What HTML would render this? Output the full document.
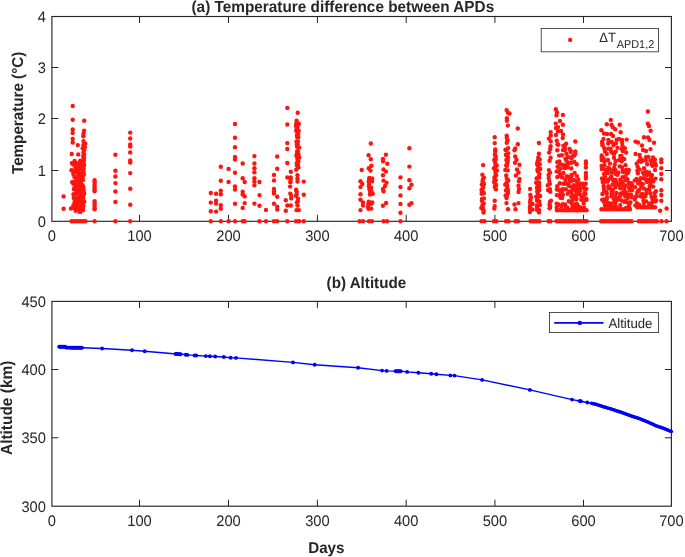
<!DOCTYPE html><html><head><meta charset="utf-8"><style>html,body{margin:0;padding:0;background:#fff;width:685px;height:557px;overflow:hidden}svg{display:block;will-change:transform}text{font-family:'Liberation Sans',sans-serif;fill:#262626;text-rendering:geometricPrecision}</style></head><body>
<svg width="685" height="557" viewBox="0 0 685 557">
<rect width="685" height="557" fill="#fff"/>
<g stroke="#262626" stroke-width="1" fill="none">
<line x1="139.50" y1="221.30" x2="139.50" y2="214.80"/>
<line x1="139.50" y1="16.50" x2="139.50" y2="23.00"/>
<line x1="228.50" y1="221.30" x2="228.50" y2="214.80"/>
<line x1="228.50" y1="16.50" x2="228.50" y2="23.00"/>
<line x1="317.40" y1="221.30" x2="317.40" y2="214.80"/>
<line x1="317.40" y1="16.50" x2="317.40" y2="23.00"/>
<line x1="406.20" y1="221.30" x2="406.20" y2="214.80"/>
<line x1="406.20" y1="16.50" x2="406.20" y2="23.00"/>
<line x1="494.90" y1="221.30" x2="494.90" y2="214.80"/>
<line x1="494.90" y1="16.50" x2="494.90" y2="23.00"/>
<line x1="583.50" y1="221.30" x2="583.50" y2="214.80"/>
<line x1="583.50" y1="16.50" x2="583.50" y2="23.00"/>
<line x1="51.90" y1="170.50" x2="58.40" y2="170.50"/>
<line x1="671.40" y1="170.50" x2="664.90" y2="170.50"/>
<line x1="51.90" y1="118.50" x2="58.40" y2="118.50"/>
<line x1="671.40" y1="118.50" x2="664.90" y2="118.50"/>
<line x1="51.90" y1="67.50" x2="58.40" y2="67.50"/>
<line x1="671.40" y1="67.50" x2="664.90" y2="67.50"/>
</g>
<rect x="51.9" y="16.5" width="619.5" height="204.8" fill="none" stroke="#262626" stroke-width="1.15"/>
<g stroke="#262626" stroke-width="1" fill="none">
<line x1="139.50" y1="506.20" x2="139.50" y2="499.70"/>
<line x1="139.50" y1="301.40" x2="139.50" y2="307.90"/>
<line x1="228.50" y1="506.20" x2="228.50" y2="499.70"/>
<line x1="228.50" y1="301.40" x2="228.50" y2="307.90"/>
<line x1="317.40" y1="506.20" x2="317.40" y2="499.70"/>
<line x1="317.40" y1="301.40" x2="317.40" y2="307.90"/>
<line x1="406.20" y1="506.20" x2="406.20" y2="499.70"/>
<line x1="406.20" y1="301.40" x2="406.20" y2="307.90"/>
<line x1="494.90" y1="506.20" x2="494.90" y2="499.70"/>
<line x1="494.90" y1="301.40" x2="494.90" y2="307.90"/>
<line x1="583.50" y1="506.20" x2="583.50" y2="499.70"/>
<line x1="583.50" y1="301.40" x2="583.50" y2="307.90"/>
<line x1="51.90" y1="437.80" x2="58.40" y2="437.80"/>
<line x1="671.40" y1="437.80" x2="664.90" y2="437.80"/>
<line x1="51.90" y1="369.50" x2="58.40" y2="369.50"/>
<line x1="671.40" y1="369.50" x2="664.90" y2="369.50"/>
</g>
<rect x="51.9" y="301.4" width="619.5" height="204.8" fill="none" stroke="#262626" stroke-width="1.15"/>
<g fill="#ff1510">
<circle cx="72.7" cy="106.0" r="2.2"/>
<circle cx="72.7" cy="119.7" r="2.2"/>
<circle cx="72.7" cy="129.4" r="2.2"/>
<circle cx="72.7" cy="132.9" r="2.2"/>
<circle cx="72.7" cy="139.0" r="2.2"/>
<circle cx="72.7" cy="142.6" r="2.2"/>
<circle cx="84.2" cy="120.8" r="2.2"/>
<circle cx="77.8" cy="145.1" r="2.2"/>
<circle cx="71.7" cy="154.0" r="2.2"/>
<circle cx="78.2" cy="154.4" r="2.2"/>
<circle cx="63.6" cy="196.4" r="2.2"/>
<circle cx="63.6" cy="208.7" r="2.2"/>
<circle cx="84.1" cy="130.7" r="2.2"/>
<circle cx="83.5" cy="133.7" r="2.2"/>
<circle cx="83.4" cy="136.3" r="2.2"/>
<circle cx="83.5" cy="141.1" r="2.2"/>
<circle cx="85.3" cy="143.8" r="2.2"/>
<circle cx="84.8" cy="147.3" r="2.2"/>
<circle cx="84.3" cy="149.9" r="2.2"/>
<circle cx="84.0" cy="154.4" r="2.2"/>
<circle cx="84.0" cy="157.7" r="2.2"/>
<circle cx="83.7" cy="160.1" r="2.2"/>
<circle cx="83.4" cy="144.9" r="2.2"/>
<circle cx="82.7" cy="148.3" r="2.2"/>
<circle cx="83.4" cy="152.4" r="2.2"/>
<circle cx="83.3" cy="156.2" r="2.2"/>
<circle cx="83.0" cy="160.3" r="2.2"/>
<circle cx="74.6" cy="160.9" r="2.2"/>
<circle cx="80.3" cy="160.8" r="2.2"/>
<circle cx="83.6" cy="161.2" r="2.2"/>
<circle cx="71.9" cy="163.1" r="2.2"/>
<circle cx="73.8" cy="163.5" r="2.2"/>
<circle cx="76.3" cy="163.2" r="2.2"/>
<circle cx="79.1" cy="163.2" r="2.2"/>
<circle cx="83.1" cy="162.7" r="2.2"/>
<circle cx="73.2" cy="164.5" r="2.2"/>
<circle cx="75.6" cy="164.8" r="2.2"/>
<circle cx="79.4" cy="164.5" r="2.2"/>
<circle cx="81.2" cy="166.0" r="2.2"/>
<circle cx="84.2" cy="164.9" r="2.2"/>
<circle cx="75.7" cy="167.2" r="2.2"/>
<circle cx="78.7" cy="167.9" r="2.2"/>
<circle cx="80.2" cy="167.6" r="2.2"/>
<circle cx="83.6" cy="168.5" r="2.2"/>
<circle cx="71.5" cy="170.3" r="2.2"/>
<circle cx="73.1" cy="170.8" r="2.2"/>
<circle cx="77.0" cy="170.6" r="2.2"/>
<circle cx="78.5" cy="169.4" r="2.2"/>
<circle cx="80.3" cy="169.3" r="2.2"/>
<circle cx="82.9" cy="169.8" r="2.2"/>
<circle cx="73.7" cy="171.6" r="2.2"/>
<circle cx="76.5" cy="171.9" r="2.2"/>
<circle cx="78.4" cy="172.3" r="2.2"/>
<circle cx="81.7" cy="173.4" r="2.2"/>
<circle cx="83.5" cy="171.8" r="2.2"/>
<circle cx="73.3" cy="174.0" r="2.2"/>
<circle cx="78.1" cy="175.0" r="2.2"/>
<circle cx="81.2" cy="175.8" r="2.2"/>
<circle cx="83.9" cy="174.5" r="2.2"/>
<circle cx="74.4" cy="177.0" r="2.2"/>
<circle cx="76.9" cy="178.2" r="2.2"/>
<circle cx="79.3" cy="177.9" r="2.2"/>
<circle cx="80.6" cy="177.3" r="2.2"/>
<circle cx="82.7" cy="176.5" r="2.2"/>
<circle cx="77.1" cy="180.6" r="2.2"/>
<circle cx="80.6" cy="179.2" r="2.2"/>
<circle cx="83.0" cy="179.9" r="2.2"/>
<circle cx="72.1" cy="182.1" r="2.2"/>
<circle cx="74.4" cy="181.4" r="2.2"/>
<circle cx="77.0" cy="182.6" r="2.2"/>
<circle cx="78.7" cy="181.5" r="2.2"/>
<circle cx="80.8" cy="182.6" r="2.2"/>
<circle cx="73.3" cy="183.8" r="2.2"/>
<circle cx="77.0" cy="185.1" r="2.2"/>
<circle cx="79.3" cy="185.4" r="2.2"/>
<circle cx="80.8" cy="184.6" r="2.2"/>
<circle cx="82.6" cy="185.3" r="2.2"/>
<circle cx="74.6" cy="187.5" r="2.2"/>
<circle cx="75.9" cy="186.5" r="2.2"/>
<circle cx="78.9" cy="186.5" r="2.2"/>
<circle cx="80.4" cy="187.6" r="2.2"/>
<circle cx="83.4" cy="187.1" r="2.2"/>
<circle cx="74.0" cy="189.3" r="2.2"/>
<circle cx="76.2" cy="188.7" r="2.2"/>
<circle cx="79.2" cy="188.7" r="2.2"/>
<circle cx="81.5" cy="189.4" r="2.2"/>
<circle cx="83.5" cy="189.4" r="2.2"/>
<circle cx="76.4" cy="192.2" r="2.2"/>
<circle cx="78.6" cy="191.9" r="2.2"/>
<circle cx="81.1" cy="192.0" r="2.2"/>
<circle cx="83.6" cy="191.7" r="2.2"/>
<circle cx="73.5" cy="194.2" r="2.2"/>
<circle cx="76.9" cy="193.4" r="2.2"/>
<circle cx="78.6" cy="193.3" r="2.2"/>
<circle cx="80.3" cy="194.4" r="2.2"/>
<circle cx="84.2" cy="193.5" r="2.2"/>
<circle cx="74.7" cy="196.0" r="2.2"/>
<circle cx="78.7" cy="197.4" r="2.2"/>
<circle cx="80.5" cy="196.4" r="2.2"/>
<circle cx="83.2" cy="196.0" r="2.2"/>
<circle cx="73.8" cy="198.0" r="2.2"/>
<circle cx="76.5" cy="198.9" r="2.2"/>
<circle cx="79.6" cy="199.4" r="2.2"/>
<circle cx="83.1" cy="198.1" r="2.2"/>
<circle cx="74.6" cy="201.9" r="2.2"/>
<circle cx="75.7" cy="202.1" r="2.2"/>
<circle cx="79.1" cy="200.6" r="2.2"/>
<circle cx="81.4" cy="201.2" r="2.2"/>
<circle cx="84.3" cy="201.5" r="2.2"/>
<circle cx="74.6" cy="203.6" r="2.2"/>
<circle cx="76.4" cy="204.5" r="2.2"/>
<circle cx="78.0" cy="203.7" r="2.2"/>
<circle cx="80.4" cy="203.1" r="2.2"/>
<circle cx="83.0" cy="203.4" r="2.2"/>
<circle cx="73.3" cy="205.8" r="2.2"/>
<circle cx="75.9" cy="205.2" r="2.2"/>
<circle cx="78.8" cy="205.5" r="2.2"/>
<circle cx="81.9" cy="205.4" r="2.2"/>
<circle cx="83.4" cy="206.1" r="2.2"/>
<circle cx="74.8" cy="208.2" r="2.2"/>
<circle cx="76.7" cy="208.7" r="2.2"/>
<circle cx="78.4" cy="207.7" r="2.2"/>
<circle cx="80.3" cy="208.9" r="2.2"/>
<circle cx="82.9" cy="207.8" r="2.2"/>
<circle cx="75.7" cy="210.8" r="2.2"/>
<circle cx="79.5" cy="211.8" r="2.2"/>
<circle cx="80.6" cy="211.7" r="2.2"/>
<circle cx="83.2" cy="210.0" r="2.2"/>
<circle cx="71.0" cy="208.5" r="2.2"/>
<circle cx="94.6" cy="180.3" r="2.2"/>
<circle cx="94.6" cy="182.6" r="2.2"/>
<circle cx="94.6" cy="184.9" r="2.2"/>
<circle cx="94.6" cy="187.2" r="2.2"/>
<circle cx="94.6" cy="189.5" r="2.2"/>
<circle cx="94.6" cy="191.2" r="2.2"/>
<circle cx="94.6" cy="201.3" r="2.2"/>
<circle cx="94.6" cy="203.5" r="2.2"/>
<circle cx="94.6" cy="205.7" r="2.2"/>
<circle cx="94.6" cy="207.9" r="2.2"/>
<circle cx="94.6" cy="209.3" r="2.2"/>
<circle cx="71.5" cy="221.2" r="2.2"/>
<circle cx="73.8" cy="221.2" r="2.2"/>
<circle cx="76.2" cy="221.2" r="2.2"/>
<circle cx="78.5" cy="221.2" r="2.2"/>
<circle cx="80.8" cy="221.2" r="2.2"/>
<circle cx="83.2" cy="221.2" r="2.2"/>
<circle cx="85.5" cy="221.2" r="2.2"/>
<circle cx="94.6" cy="221.2" r="2.2"/>
<circle cx="115.4" cy="154.8" r="2.2"/>
<circle cx="115.4" cy="170.8" r="2.2"/>
<circle cx="115.4" cy="176.5" r="2.2"/>
<circle cx="115.4" cy="183.1" r="2.2"/>
<circle cx="115.4" cy="191.5" r="2.2"/>
<circle cx="115.4" cy="201.9" r="2.2"/>
<circle cx="115.4" cy="221.2" r="2.2"/>
<circle cx="130.2" cy="132.6" r="2.2"/>
<circle cx="130.2" cy="138.5" r="2.2"/>
<circle cx="130.2" cy="144.5" r="2.2"/>
<circle cx="130.2" cy="146.5" r="2.2"/>
<circle cx="130.2" cy="152.4" r="2.2"/>
<circle cx="130.2" cy="160.5" r="2.2"/>
<circle cx="130.2" cy="162.5" r="2.2"/>
<circle cx="130.2" cy="173.1" r="2.2"/>
<circle cx="130.2" cy="188.7" r="2.2"/>
<circle cx="130.2" cy="204.7" r="2.2"/>
<circle cx="130.2" cy="221.2" r="2.2"/>
<circle cx="210.8" cy="193.0" r="2.2"/>
<circle cx="210.8" cy="202.6" r="2.2"/>
<circle cx="210.8" cy="211.3" r="2.2"/>
<circle cx="210.8" cy="221.2" r="2.2"/>
<circle cx="216.1" cy="193.8" r="2.2"/>
<circle cx="216.1" cy="200.8" r="2.2"/>
<circle cx="216.1" cy="203.5" r="2.2"/>
<circle cx="216.1" cy="211.6" r="2.2"/>
<circle cx="220.8" cy="166.7" r="2.2"/>
<circle cx="220.8" cy="180.8" r="2.2"/>
<circle cx="220.8" cy="190.8" r="2.2"/>
<circle cx="220.8" cy="194.3" r="2.2"/>
<circle cx="220.8" cy="205.3" r="2.2"/>
<circle cx="220.8" cy="208.8" r="2.2"/>
<circle cx="220.8" cy="221.2" r="2.2"/>
<circle cx="228.6" cy="168.9" r="2.2"/>
<circle cx="228.6" cy="181.9" r="2.2"/>
<circle cx="228.6" cy="221.2" r="2.2"/>
<circle cx="235.0" cy="124.0" r="2.2"/>
<circle cx="235.0" cy="137.8" r="2.2"/>
<circle cx="235.0" cy="147.2" r="2.2"/>
<circle cx="235.0" cy="157.0" r="2.2"/>
<circle cx="235.0" cy="159.5" r="2.2"/>
<circle cx="235.0" cy="172.8" r="2.2"/>
<circle cx="235.0" cy="186.5" r="2.2"/>
<circle cx="235.0" cy="189.5" r="2.2"/>
<circle cx="235.0" cy="203.8" r="2.2"/>
<circle cx="235.0" cy="221.2" r="2.2"/>
<circle cx="242.7" cy="163.5" r="2.2"/>
<circle cx="242.7" cy="178.3" r="2.2"/>
<circle cx="242.7" cy="191.7" r="2.2"/>
<circle cx="242.7" cy="194.5" r="2.2"/>
<circle cx="242.7" cy="207.9" r="2.2"/>
<circle cx="242.7" cy="221.2" r="2.2"/>
<circle cx="244.7" cy="182.0" r="2.2"/>
<circle cx="244.7" cy="196.4" r="2.2"/>
<circle cx="244.7" cy="203.1" r="2.2"/>
<circle cx="244.7" cy="221.2" r="2.2"/>
<circle cx="254.4" cy="156.1" r="2.2"/>
<circle cx="254.4" cy="163.5" r="2.2"/>
<circle cx="254.4" cy="168.2" r="2.2"/>
<circle cx="254.4" cy="172.2" r="2.2"/>
<circle cx="254.4" cy="178.3" r="2.2"/>
<circle cx="254.4" cy="181.6" r="2.2"/>
<circle cx="254.4" cy="185.3" r="2.2"/>
<circle cx="254.4" cy="203.6" r="2.2"/>
<circle cx="259.5" cy="182.0" r="2.2"/>
<circle cx="259.5" cy="195.1" r="2.2"/>
<circle cx="259.5" cy="205.8" r="2.2"/>
<circle cx="259.5" cy="221.2" r="2.2"/>
<circle cx="266.0" cy="209.9" r="2.2"/>
<circle cx="266.0" cy="221.2" r="2.2"/>
<circle cx="274.0" cy="174.9" r="2.2"/>
<circle cx="274.0" cy="180.4" r="2.2"/>
<circle cx="274.0" cy="189.0" r="2.2"/>
<circle cx="274.0" cy="191.5" r="2.2"/>
<circle cx="274.0" cy="193.5" r="2.2"/>
<circle cx="274.0" cy="203.7" r="2.2"/>
<circle cx="274.0" cy="221.2" r="2.2"/>
<circle cx="277.2" cy="156.5" r="2.2"/>
<circle cx="277.2" cy="168.7" r="2.2"/>
<circle cx="277.2" cy="196.7" r="2.2"/>
<circle cx="277.2" cy="206.6" r="2.2"/>
<circle cx="277.2" cy="209.5" r="2.2"/>
<circle cx="277.2" cy="221.2" r="2.2"/>
<circle cx="287.3" cy="107.9" r="2.2"/>
<circle cx="287.3" cy="124.5" r="2.2"/>
<circle cx="287.3" cy="143.1" r="2.2"/>
<circle cx="287.3" cy="149.0" r="2.2"/>
<circle cx="287.3" cy="163.0" r="2.2"/>
<circle cx="287.3" cy="177.5" r="2.2"/>
<circle cx="287.3" cy="205.5" r="2.2"/>
<circle cx="287.3" cy="221.2" r="2.2"/>
<circle cx="285.8" cy="200.2" r="2.2"/>
<circle cx="285.8" cy="210.7" r="2.2"/>
<circle cx="290.8" cy="171.7" r="2.2"/>
<circle cx="290.8" cy="177.5" r="2.2"/>
<circle cx="290.8" cy="205.5" r="2.2"/>
<circle cx="290.6" cy="180.0" r="2.2"/>
<circle cx="290.3" cy="182.3" r="2.2"/>
<circle cx="290.1" cy="186.6" r="2.2"/>
<circle cx="290.3" cy="193.6" r="2.2"/>
<circle cx="291.3" cy="195.9" r="2.2"/>
<circle cx="291.2" cy="198.4" r="2.2"/>
<circle cx="297.7" cy="112.8" r="2.2"/>
<circle cx="296.6" cy="120.8" r="2.2"/>
<circle cx="296.2" cy="123.6" r="2.2"/>
<circle cx="296.0" cy="126.0" r="2.2"/>
<circle cx="297.0" cy="128.2" r="2.2"/>
<circle cx="296.2" cy="130.4" r="2.2"/>
<circle cx="297.4" cy="133.0" r="2.2"/>
<circle cx="297.0" cy="135.4" r="2.2"/>
<circle cx="297.1" cy="137.1" r="2.2"/>
<circle cx="296.5" cy="141.6" r="2.2"/>
<circle cx="296.9" cy="144.5" r="2.2"/>
<circle cx="297.1" cy="146.7" r="2.2"/>
<circle cx="297.2" cy="151.3" r="2.2"/>
<circle cx="297.1" cy="153.2" r="2.2"/>
<circle cx="296.4" cy="155.6" r="2.2"/>
<circle cx="297.2" cy="158.0" r="2.2"/>
<circle cx="297.7" cy="160.7" r="2.2"/>
<circle cx="296.8" cy="163.2" r="2.2"/>
<circle cx="297.0" cy="165.5" r="2.2"/>
<circle cx="296.2" cy="169.8" r="2.2"/>
<circle cx="298.8" cy="123.8" r="2.2"/>
<circle cx="297.5" cy="126.9" r="2.2"/>
<circle cx="298.7" cy="131.0" r="2.2"/>
<circle cx="298.0" cy="134.2" r="2.2"/>
<circle cx="298.3" cy="137.2" r="2.2"/>
<circle cx="297.9" cy="141.4" r="2.2"/>
<circle cx="297.5" cy="144.3" r="2.2"/>
<circle cx="299.2" cy="147.6" r="2.2"/>
<circle cx="297.9" cy="151.5" r="2.2"/>
<circle cx="298.5" cy="154.1" r="2.2"/>
<circle cx="299.2" cy="157.5" r="2.2"/>
<circle cx="298.4" cy="161.6" r="2.2"/>
<circle cx="297.9" cy="165.0" r="2.2"/>
<circle cx="298.4" cy="167.5" r="2.2"/>
<circle cx="297.5" cy="175.2" r="2.2"/>
<circle cx="297.5" cy="178.7" r="2.2"/>
<circle cx="297.5" cy="181.6" r="2.2"/>
<circle cx="297.5" cy="205.5" r="2.2"/>
<circle cx="296.1" cy="189.7" r="2.2"/>
<circle cx="296.6" cy="191.3" r="2.2"/>
<circle cx="296.7" cy="193.9" r="2.2"/>
<circle cx="296.1" cy="195.8" r="2.2"/>
<circle cx="298.0" cy="198.6" r="2.2"/>
<circle cx="297.8" cy="201.2" r="2.2"/>
<circle cx="297.0" cy="202.4" r="2.2"/>
<circle cx="296.5" cy="210.1" r="2.2"/>
<circle cx="298.8" cy="210.1" r="2.2"/>
<circle cx="296.0" cy="221.2" r="2.2"/>
<circle cx="299.0" cy="221.2" r="2.2"/>
<circle cx="303.8" cy="181.6" r="2.2"/>
<circle cx="303.8" cy="194.7" r="2.2"/>
<circle cx="303.8" cy="221.2" r="2.2"/>
<circle cx="370.8" cy="143.5" r="2.2"/>
<circle cx="370.8" cy="159.3" r="2.2"/>
<circle cx="368.6" cy="155.2" r="2.2"/>
<circle cx="371.4" cy="165.7" r="2.2"/>
<circle cx="368.8" cy="168.2" r="2.2"/>
<circle cx="370.5" cy="170.6" r="2.2"/>
<circle cx="361.7" cy="170.0" r="2.2"/>
<circle cx="360.5" cy="181.3" r="2.2"/>
<circle cx="360.5" cy="187.1" r="2.2"/>
<circle cx="360.5" cy="194.3" r="2.2"/>
<circle cx="360.5" cy="199.7" r="2.2"/>
<circle cx="360.5" cy="210.1" r="2.2"/>
<circle cx="362.3" cy="184.0" r="2.2"/>
<circle cx="363.0" cy="202.4" r="2.2"/>
<circle cx="363.0" cy="205.6" r="2.2"/>
<circle cx="359.5" cy="221.2" r="2.2"/>
<circle cx="363.0" cy="221.2" r="2.2"/>
<circle cx="369.3" cy="178.0" r="2.2"/>
<circle cx="369.2" cy="179.6" r="2.2"/>
<circle cx="368.7" cy="181.5" r="2.2"/>
<circle cx="369.1" cy="184.5" r="2.2"/>
<circle cx="369.1" cy="186.3" r="2.2"/>
<circle cx="369.3" cy="188.9" r="2.2"/>
<circle cx="370.1" cy="190.8" r="2.2"/>
<circle cx="370.3" cy="192.9" r="2.2"/>
<circle cx="369.9" cy="194.5" r="2.2"/>
<circle cx="372.2" cy="178.5" r="2.2"/>
<circle cx="372.1" cy="181.4" r="2.2"/>
<circle cx="371.1" cy="187.8" r="2.2"/>
<circle cx="371.4" cy="191.1" r="2.2"/>
<circle cx="372.7" cy="193.8" r="2.2"/>
<circle cx="368.8" cy="201.8" r="2.2"/>
<circle cx="368.3" cy="204.0" r="2.2"/>
<circle cx="368.0" cy="207.1" r="2.2"/>
<circle cx="368.5" cy="208.7" r="2.2"/>
<circle cx="372.2" cy="202.5" r="2.2"/>
<circle cx="370.9" cy="204.0" r="2.2"/>
<circle cx="371.2" cy="208.6" r="2.2"/>
<circle cx="369.0" cy="221.2" r="2.2"/>
<circle cx="372.0" cy="221.2" r="2.2"/>
<circle cx="385.9" cy="154.7" r="2.2"/>
<circle cx="383.0" cy="159.0" r="2.2"/>
<circle cx="383.0" cy="161.2" r="2.2"/>
<circle cx="387.3" cy="163.7" r="2.2"/>
<circle cx="383.5" cy="169.5" r="2.2"/>
<circle cx="385.9" cy="171.6" r="2.2"/>
<circle cx="383.0" cy="175.2" r="2.2"/>
<circle cx="383.5" cy="180.6" r="2.2"/>
<circle cx="386.5" cy="182.8" r="2.2"/>
<circle cx="385.0" cy="186.0" r="2.2"/>
<circle cx="383.0" cy="188.9" r="2.2"/>
<circle cx="383.5" cy="191.3" r="2.2"/>
<circle cx="386.1" cy="203.0" r="2.2"/>
<circle cx="382.9" cy="205.8" r="2.2"/>
<circle cx="383.5" cy="221.2" r="2.2"/>
<circle cx="387.0" cy="221.2" r="2.2"/>
<circle cx="400.5" cy="177.4" r="2.2"/>
<circle cx="400.5" cy="186.9" r="2.2"/>
<circle cx="400.5" cy="195.5" r="2.2"/>
<circle cx="400.5" cy="203.9" r="2.2"/>
<circle cx="400.5" cy="212.7" r="2.2"/>
<circle cx="400.5" cy="221.2" r="2.2"/>
<circle cx="409.4" cy="148.2" r="2.2"/>
<circle cx="409.4" cy="166.6" r="2.2"/>
<circle cx="409.4" cy="180.2" r="2.2"/>
<circle cx="409.4" cy="188.2" r="2.2"/>
<circle cx="409.4" cy="204.7" r="2.2"/>
<circle cx="411.5" cy="184.7" r="2.2"/>
<circle cx="411.5" cy="203.1" r="2.2"/>
<circle cx="483.1" cy="165.1" r="2.2"/>
<circle cx="482.4" cy="174.8" r="2.2"/>
<circle cx="483.9" cy="177.6" r="2.2"/>
<circle cx="482.8" cy="179.7" r="2.2"/>
<circle cx="482.6" cy="181.6" r="2.2"/>
<circle cx="484.0" cy="184.0" r="2.2"/>
<circle cx="483.3" cy="187.1" r="2.2"/>
<circle cx="482.5" cy="188.8" r="2.2"/>
<circle cx="482.9" cy="191.9" r="2.2"/>
<circle cx="483.8" cy="193.3" r="2.2"/>
<circle cx="483.9" cy="198.4" r="2.2"/>
<circle cx="481.9" cy="200.7" r="2.2"/>
<circle cx="483.7" cy="203.5" r="2.2"/>
<circle cx="482.4" cy="205.1" r="2.2"/>
<circle cx="483.0" cy="208.0" r="2.2"/>
<circle cx="483.5" cy="210.3" r="2.2"/>
<circle cx="483.6" cy="212.5" r="2.2"/>
<circle cx="481.9" cy="184.5" r="2.2"/>
<circle cx="481.5" cy="190.0" r="2.2"/>
<circle cx="481.6" cy="193.8" r="2.2"/>
<circle cx="482.0" cy="199.0" r="2.2"/>
<circle cx="481.3" cy="208.0" r="2.2"/>
<circle cx="481.5" cy="221.2" r="2.2"/>
<circle cx="484.5" cy="221.2" r="2.2"/>
<circle cx="494.7" cy="137.2" r="2.2"/>
<circle cx="494.7" cy="143.1" r="2.2"/>
<circle cx="495.2" cy="149.4" r="2.2"/>
<circle cx="495.2" cy="151.4" r="2.2"/>
<circle cx="494.9" cy="154.7" r="2.2"/>
<circle cx="495.8" cy="156.6" r="2.2"/>
<circle cx="494.4" cy="159.4" r="2.2"/>
<circle cx="494.6" cy="160.8" r="2.2"/>
<circle cx="495.4" cy="163.6" r="2.2"/>
<circle cx="495.4" cy="166.4" r="2.2"/>
<circle cx="494.0" cy="168.2" r="2.2"/>
<circle cx="495.4" cy="170.4" r="2.2"/>
<circle cx="495.5" cy="173.1" r="2.2"/>
<circle cx="496.0" cy="175.3" r="2.2"/>
<circle cx="494.4" cy="177.5" r="2.2"/>
<circle cx="494.5" cy="180.6" r="2.2"/>
<circle cx="494.3" cy="182.2" r="2.2"/>
<circle cx="495.4" cy="185.3" r="2.2"/>
<circle cx="494.8" cy="187.0" r="2.2"/>
<circle cx="496.0" cy="189.2" r="2.2"/>
<circle cx="495.8" cy="159.6" r="2.2"/>
<circle cx="496.8" cy="165.4" r="2.2"/>
<circle cx="496.9" cy="170.4" r="2.2"/>
<circle cx="495.9" cy="175.4" r="2.2"/>
<circle cx="495.7" cy="180.2" r="2.2"/>
<circle cx="496.2" cy="184.9" r="2.2"/>
<circle cx="494.7" cy="200.7" r="2.2"/>
<circle cx="494.7" cy="206.1" r="2.2"/>
<circle cx="494.3" cy="208.5" r="2.2"/>
<circle cx="494.0" cy="221.2" r="2.2"/>
<circle cx="496.5" cy="221.2" r="2.2"/>
<circle cx="506.6" cy="110.1" r="2.2"/>
<circle cx="507.9" cy="112.7" r="2.2"/>
<circle cx="506.9" cy="118.2" r="2.2"/>
<circle cx="506.9" cy="120.7" r="2.2"/>
<circle cx="507.9" cy="125.6" r="2.2"/>
<circle cx="506.7" cy="135.6" r="2.2"/>
<circle cx="506.8" cy="137.7" r="2.2"/>
<circle cx="507.5" cy="140.2" r="2.2"/>
<circle cx="506.8" cy="142.7" r="2.2"/>
<circle cx="508.1" cy="148.1" r="2.2"/>
<circle cx="506.2" cy="150.3" r="2.2"/>
<circle cx="508.2" cy="153.5" r="2.2"/>
<circle cx="506.7" cy="155.5" r="2.2"/>
<circle cx="508.1" cy="157.8" r="2.2"/>
<circle cx="507.7" cy="160.9" r="2.2"/>
<circle cx="507.4" cy="162.9" r="2.2"/>
<circle cx="506.9" cy="165.9" r="2.2"/>
<circle cx="507.8" cy="170.4" r="2.2"/>
<circle cx="506.8" cy="178.7" r="2.2"/>
<circle cx="508.3" cy="180.5" r="2.2"/>
<circle cx="506.3" cy="183.3" r="2.2"/>
<circle cx="507.1" cy="185.5" r="2.2"/>
<circle cx="507.5" cy="188.5" r="2.2"/>
<circle cx="508.0" cy="191.0" r="2.2"/>
<circle cx="507.9" cy="193.2" r="2.2"/>
<circle cx="506.9" cy="196.1" r="2.2"/>
<circle cx="506.5" cy="198.1" r="2.2"/>
<circle cx="509.5" cy="113.5" r="2.2"/>
<circle cx="505.5" cy="149.7" r="2.2"/>
<circle cx="505.9" cy="154.8" r="2.2"/>
<circle cx="506.4" cy="160.0" r="2.2"/>
<circle cx="506.2" cy="165.2" r="2.2"/>
<circle cx="505.3" cy="170.0" r="2.2"/>
<circle cx="506.2" cy="175.4" r="2.2"/>
<circle cx="505.3" cy="184.7" r="2.2"/>
<circle cx="505.9" cy="190.4" r="2.2"/>
<circle cx="505.6" cy="195.4" r="2.2"/>
<circle cx="506.5" cy="203.1" r="2.2"/>
<circle cx="508.0" cy="209.2" r="2.2"/>
<circle cx="506.0" cy="221.2" r="2.2"/>
<circle cx="508.5" cy="221.2" r="2.2"/>
<circle cx="517.8" cy="128.5" r="2.2"/>
<circle cx="517.8" cy="144.2" r="2.2"/>
<circle cx="515.2" cy="148.5" r="2.2"/>
<circle cx="514.5" cy="150.3" r="2.2"/>
<circle cx="515.2" cy="156.5" r="2.2"/>
<circle cx="516.5" cy="159.8" r="2.2"/>
<circle cx="518.5" cy="172.5" r="2.2"/>
<circle cx="516.0" cy="175.5" r="2.2"/>
<circle cx="519.0" cy="189.0" r="2.2"/>
<circle cx="515.0" cy="162.8" r="2.2"/>
<circle cx="519.5" cy="164.8" r="2.2"/>
<circle cx="517.0" cy="169.5" r="2.2"/>
<circle cx="519.5" cy="178.9" r="2.2"/>
<circle cx="519.0" cy="181.2" r="2.2"/>
<circle cx="518.5" cy="185.6" r="2.2"/>
<circle cx="518.5" cy="192.0" r="2.2"/>
<circle cx="518.5" cy="203.1" r="2.2"/>
<circle cx="514.5" cy="204.5" r="2.2"/>
<circle cx="515.5" cy="209.2" r="2.2"/>
<circle cx="515.5" cy="221.2" r="2.2"/>
<circle cx="518.0" cy="221.2" r="2.2"/>
<circle cx="530.1" cy="188.9" r="2.2"/>
<circle cx="530.3" cy="195.0" r="2.2"/>
<circle cx="530.9" cy="197.2" r="2.2"/>
<circle cx="530.5" cy="199.7" r="2.2"/>
<circle cx="530.0" cy="202.0" r="2.2"/>
<circle cx="530.5" cy="204.8" r="2.2"/>
<circle cx="529.8" cy="206.9" r="2.2"/>
<circle cx="530.0" cy="209.2" r="2.2"/>
<circle cx="530.0" cy="212.1" r="2.2"/>
<circle cx="532.6" cy="204.0" r="2.2"/>
<circle cx="532.6" cy="209.5" r="2.2"/>
<circle cx="538.9" cy="143.0" r="2.2"/>
<circle cx="538.9" cy="153.8" r="2.2"/>
<circle cx="538.3" cy="157.4" r="2.2"/>
<circle cx="537.9" cy="160.6" r="2.2"/>
<circle cx="537.2" cy="163.0" r="2.2"/>
<circle cx="538.0" cy="165.8" r="2.2"/>
<circle cx="539.3" cy="168.6" r="2.2"/>
<circle cx="537.9" cy="171.4" r="2.2"/>
<circle cx="539.4" cy="174.1" r="2.2"/>
<circle cx="538.7" cy="176.7" r="2.2"/>
<circle cx="538.0" cy="182.8" r="2.2"/>
<circle cx="539.1" cy="185.2" r="2.2"/>
<circle cx="537.0" cy="188.0" r="2.2"/>
<circle cx="539.2" cy="190.3" r="2.2"/>
<circle cx="537.9" cy="193.5" r="2.2"/>
<circle cx="537.7" cy="196.3" r="2.2"/>
<circle cx="537.3" cy="199.0" r="2.2"/>
<circle cx="539.3" cy="201.4" r="2.2"/>
<circle cx="539.3" cy="204.9" r="2.2"/>
<circle cx="537.1" cy="207.6" r="2.2"/>
<circle cx="539.2" cy="210.1" r="2.2"/>
<circle cx="539.0" cy="212.4" r="2.2"/>
<circle cx="537.3" cy="164.7" r="2.2"/>
<circle cx="537.4" cy="169.8" r="2.2"/>
<circle cx="536.6" cy="178.5" r="2.2"/>
<circle cx="536.2" cy="182.7" r="2.2"/>
<circle cx="537.4" cy="187.0" r="2.2"/>
<circle cx="537.2" cy="191.5" r="2.2"/>
<circle cx="536.2" cy="196.6" r="2.2"/>
<circle cx="537.0" cy="200.8" r="2.2"/>
<circle cx="536.9" cy="205.4" r="2.2"/>
<circle cx="537.1" cy="209.9" r="2.2"/>
<circle cx="539.7" cy="159.5" r="2.2"/>
<circle cx="539.8" cy="164.2" r="2.2"/>
<circle cx="540.2" cy="169.0" r="2.2"/>
<circle cx="539.2" cy="177.6" r="2.2"/>
<circle cx="539.1" cy="182.4" r="2.2"/>
<circle cx="539.1" cy="187.1" r="2.2"/>
<circle cx="540.2" cy="196.0" r="2.2"/>
<circle cx="539.8" cy="204.9" r="2.2"/>
<circle cx="530.5" cy="221.2" r="2.2"/>
<circle cx="532.8" cy="221.2" r="2.2"/>
<circle cx="535.0" cy="221.2" r="2.2"/>
<circle cx="537.2" cy="221.2" r="2.2"/>
<circle cx="539.5" cy="221.2" r="2.2"/>
<circle cx="550.7" cy="132.1" r="2.2"/>
<circle cx="550.8" cy="135.6" r="2.2"/>
<circle cx="548.9" cy="138.6" r="2.2"/>
<circle cx="550.7" cy="141.4" r="2.2"/>
<circle cx="550.6" cy="146.2" r="2.2"/>
<circle cx="550.2" cy="149.2" r="2.2"/>
<circle cx="549.1" cy="152.6" r="2.2"/>
<circle cx="550.6" cy="157.7" r="2.2"/>
<circle cx="549.6" cy="160.7" r="2.2"/>
<circle cx="550.0" cy="172.6" r="2.2"/>
<circle cx="548.7" cy="177.9" r="2.2"/>
<circle cx="549.3" cy="181.0" r="2.2"/>
<circle cx="549.8" cy="183.9" r="2.2"/>
<circle cx="549.9" cy="189.1" r="2.2"/>
<circle cx="550.3" cy="191.8" r="2.2"/>
<circle cx="548.9" cy="170.1" r="2.2"/>
<circle cx="548.6" cy="174.9" r="2.2"/>
<circle cx="547.8" cy="185.3" r="2.2"/>
<circle cx="548.0" cy="190.1" r="2.2"/>
<circle cx="551.0" cy="200.6" r="2.2"/>
<circle cx="549.9" cy="202.0" r="2.2"/>
<circle cx="549.6" cy="204.6" r="2.2"/>
<circle cx="550.2" cy="206.9" r="2.2"/>
<circle cx="549.6" cy="208.2" r="2.2"/>
<circle cx="548.5" cy="221.2" r="2.2"/>
<circle cx="550.5" cy="221.2" r="2.2"/>
<circle cx="555.8" cy="109.3" r="2.2"/>
<circle cx="557.0" cy="112.5" r="2.2"/>
<circle cx="562.9" cy="114.9" r="2.2"/>
<circle cx="556.5" cy="115.4" r="2.2"/>
<circle cx="555.8" cy="123.6" r="2.2"/>
<circle cx="562.9" cy="124.8" r="2.2"/>
<circle cx="558.0" cy="127.1" r="2.2"/>
<circle cx="558.0" cy="131.2" r="2.2"/>
<circle cx="560.0" cy="121.0" r="2.2"/>
<circle cx="556.0" cy="128.0" r="2.2"/>
<circle cx="561.0" cy="131.0" r="2.2"/>
<circle cx="556.0" cy="135.0" r="2.2"/>
<circle cx="563.0" cy="134.5" r="2.2"/>
<circle cx="575.3" cy="141.5" r="2.2"/>
<circle cx="575.3" cy="151.5" r="2.2"/>
<circle cx="562.7" cy="138.0" r="2.2"/>
<circle cx="556.8" cy="140.7" r="2.2"/>
<circle cx="557.4" cy="144.5" r="2.2"/>
<circle cx="558.3" cy="144.6" r="2.2"/>
<circle cx="566.1" cy="143.7" r="2.2"/>
<circle cx="563.4" cy="145.6" r="2.2"/>
<circle cx="564.9" cy="147.4" r="2.2"/>
<circle cx="557.3" cy="150.3" r="2.2"/>
<circle cx="563.0" cy="150.0" r="2.2"/>
<circle cx="564.8" cy="150.1" r="2.2"/>
<circle cx="569.5" cy="148.9" r="2.2"/>
<circle cx="570.6" cy="150.8" r="2.2"/>
<circle cx="566.4" cy="153.8" r="2.2"/>
<circle cx="570.8" cy="151.9" r="2.2"/>
<circle cx="575.3" cy="153.5" r="2.2"/>
<circle cx="559.1" cy="155.6" r="2.2"/>
<circle cx="561.9" cy="155.3" r="2.2"/>
<circle cx="568.1" cy="156.9" r="2.2"/>
<circle cx="572.3" cy="156.1" r="2.2"/>
<circle cx="574.3" cy="155.6" r="2.2"/>
<circle cx="565.5" cy="158.8" r="2.2"/>
<circle cx="571.5" cy="158.4" r="2.2"/>
<circle cx="557.2" cy="162.1" r="2.2"/>
<circle cx="559.3" cy="161.5" r="2.2"/>
<circle cx="566.4" cy="160.7" r="2.2"/>
<circle cx="567.9" cy="162.8" r="2.2"/>
<circle cx="571.2" cy="162.7" r="2.2"/>
<circle cx="574.4" cy="161.9" r="2.2"/>
<circle cx="560.1" cy="164.0" r="2.2"/>
<circle cx="563.2" cy="165.0" r="2.2"/>
<circle cx="565.4" cy="165.7" r="2.2"/>
<circle cx="567.8" cy="164.3" r="2.2"/>
<circle cx="576.7" cy="164.2" r="2.2"/>
<circle cx="557.6" cy="166.8" r="2.2"/>
<circle cx="560.7" cy="168.5" r="2.2"/>
<circle cx="564.8" cy="168.1" r="2.2"/>
<circle cx="567.8" cy="167.5" r="2.2"/>
<circle cx="571.3" cy="168.5" r="2.2"/>
<circle cx="556.7" cy="171.4" r="2.2"/>
<circle cx="558.8" cy="171.3" r="2.2"/>
<circle cx="559.8" cy="173.6" r="2.2"/>
<circle cx="563.5" cy="173.0" r="2.2"/>
<circle cx="571.5" cy="174.9" r="2.2"/>
<circle cx="574.6" cy="173.0" r="2.2"/>
<circle cx="557.3" cy="176.9" r="2.2"/>
<circle cx="560.6" cy="176.1" r="2.2"/>
<circle cx="562.2" cy="177.4" r="2.2"/>
<circle cx="566.7" cy="176.5" r="2.2"/>
<circle cx="568.0" cy="176.6" r="2.2"/>
<circle cx="571.3" cy="176.6" r="2.2"/>
<circle cx="576.9" cy="176.1" r="2.2"/>
<circle cx="565.4" cy="179.9" r="2.2"/>
<circle cx="569.6" cy="179.4" r="2.2"/>
<circle cx="572.3" cy="180.6" r="2.2"/>
<circle cx="574.0" cy="179.9" r="2.2"/>
<circle cx="578.3" cy="179.5" r="2.2"/>
<circle cx="559.8" cy="183.2" r="2.2"/>
<circle cx="563.5" cy="183.7" r="2.2"/>
<circle cx="566.3" cy="183.8" r="2.2"/>
<circle cx="567.6" cy="183.6" r="2.2"/>
<circle cx="570.3" cy="181.6" r="2.2"/>
<circle cx="576.9" cy="181.8" r="2.2"/>
<circle cx="579.9" cy="183.5" r="2.2"/>
<circle cx="582.7" cy="183.8" r="2.2"/>
<circle cx="585.7" cy="183.7" r="2.2"/>
<circle cx="557.2" cy="186.2" r="2.2"/>
<circle cx="569.0" cy="185.9" r="2.2"/>
<circle cx="571.4" cy="186.7" r="2.2"/>
<circle cx="573.9" cy="185.2" r="2.2"/>
<circle cx="577.5" cy="184.7" r="2.2"/>
<circle cx="579.6" cy="185.8" r="2.2"/>
<circle cx="583.6" cy="186.7" r="2.2"/>
<circle cx="556.9" cy="189.6" r="2.2"/>
<circle cx="559.3" cy="189.9" r="2.2"/>
<circle cx="562.8" cy="189.1" r="2.2"/>
<circle cx="565.8" cy="189.2" r="2.2"/>
<circle cx="572.7" cy="188.8" r="2.2"/>
<circle cx="575.5" cy="187.7" r="2.2"/>
<circle cx="577.8" cy="188.4" r="2.2"/>
<circle cx="580.2" cy="188.7" r="2.2"/>
<circle cx="584.1" cy="188.1" r="2.2"/>
<circle cx="586.3" cy="188.9" r="2.2"/>
<circle cx="560.3" cy="191.6" r="2.2"/>
<circle cx="562.0" cy="191.8" r="2.2"/>
<circle cx="569.2" cy="191.4" r="2.2"/>
<circle cx="571.0" cy="192.0" r="2.2"/>
<circle cx="575.2" cy="190.7" r="2.2"/>
<circle cx="578.4" cy="191.9" r="2.2"/>
<circle cx="580.0" cy="190.6" r="2.2"/>
<circle cx="584.5" cy="192.1" r="2.2"/>
<circle cx="556.8" cy="195.1" r="2.2"/>
<circle cx="559.7" cy="195.2" r="2.2"/>
<circle cx="562.9" cy="194.7" r="2.2"/>
<circle cx="567.7" cy="193.7" r="2.2"/>
<circle cx="572.5" cy="195.2" r="2.2"/>
<circle cx="575.3" cy="195.5" r="2.2"/>
<circle cx="576.9" cy="194.3" r="2.2"/>
<circle cx="580.1" cy="194.6" r="2.2"/>
<circle cx="584.5" cy="193.7" r="2.2"/>
<circle cx="585.4" cy="193.9" r="2.2"/>
<circle cx="560.5" cy="197.7" r="2.2"/>
<circle cx="562.2" cy="198.0" r="2.2"/>
<circle cx="571.3" cy="196.8" r="2.2"/>
<circle cx="573.8" cy="197.0" r="2.2"/>
<circle cx="576.3" cy="198.2" r="2.2"/>
<circle cx="581.6" cy="196.8" r="2.2"/>
<circle cx="582.6" cy="196.6" r="2.2"/>
<circle cx="585.9" cy="198.4" r="2.2"/>
<circle cx="568.8" cy="201.3" r="2.2"/>
<circle cx="572.5" cy="200.2" r="2.2"/>
<circle cx="576.3" cy="199.6" r="2.2"/>
<circle cx="581.3" cy="199.8" r="2.2"/>
<circle cx="584.1" cy="200.0" r="2.2"/>
<circle cx="586.5" cy="199.7" r="2.2"/>
<circle cx="556.7" cy="203.7" r="2.2"/>
<circle cx="558.6" cy="204.5" r="2.2"/>
<circle cx="562.8" cy="204.1" r="2.2"/>
<circle cx="565.2" cy="204.5" r="2.2"/>
<circle cx="571.7" cy="203.3" r="2.2"/>
<circle cx="575.6" cy="204.3" r="2.2"/>
<circle cx="577.1" cy="204.1" r="2.2"/>
<circle cx="583.7" cy="203.3" r="2.2"/>
<circle cx="556.7" cy="207.8" r="2.2"/>
<circle cx="561.3" cy="206.2" r="2.2"/>
<circle cx="565.7" cy="207.6" r="2.2"/>
<circle cx="567.4" cy="207.6" r="2.2"/>
<circle cx="572.4" cy="207.0" r="2.2"/>
<circle cx="575.3" cy="207.5" r="2.2"/>
<circle cx="578.5" cy="206.4" r="2.2"/>
<circle cx="580.6" cy="207.5" r="2.2"/>
<circle cx="584.1" cy="207.8" r="2.2"/>
<circle cx="567.9" cy="210.0" r="2.2"/>
<circle cx="572.4" cy="209.9" r="2.2"/>
<circle cx="574.7" cy="209.1" r="2.2"/>
<circle cx="576.7" cy="210.3" r="2.2"/>
<circle cx="580.7" cy="209.6" r="2.2"/>
<circle cx="582.7" cy="208.7" r="2.2"/>
<circle cx="585.9" cy="161.5" r="2.2"/>
<circle cx="585.9" cy="164.0" r="2.2"/>
<circle cx="585.9" cy="167.5" r="2.2"/>
<circle cx="585.9" cy="173.0" r="2.2"/>
<circle cx="585.9" cy="176.0" r="2.2"/>
<circle cx="585.9" cy="178.5" r="2.2"/>
<circle cx="557.0" cy="210.3" r="2.2"/>
<circle cx="559.7" cy="210.3" r="2.2"/>
<circle cx="562.4" cy="210.3" r="2.2"/>
<circle cx="565.0" cy="210.3" r="2.2"/>
<circle cx="567.7" cy="210.3" r="2.2"/>
<circle cx="570.4" cy="210.3" r="2.2"/>
<circle cx="573.1" cy="210.3" r="2.2"/>
<circle cx="575.8" cy="210.3" r="2.2"/>
<circle cx="578.5" cy="210.3" r="2.2"/>
<circle cx="581.1" cy="210.3" r="2.2"/>
<circle cx="583.8" cy="210.3" r="2.2"/>
<circle cx="586.5" cy="210.3" r="2.2"/>
<circle cx="556.6" cy="221.2" r="2.2"/>
<circle cx="558.9" cy="221.2" r="2.2"/>
<circle cx="561.2" cy="221.2" r="2.2"/>
<circle cx="563.5" cy="221.2" r="2.2"/>
<circle cx="565.9" cy="221.2" r="2.2"/>
<circle cx="568.2" cy="221.2" r="2.2"/>
<circle cx="570.5" cy="221.2" r="2.2"/>
<circle cx="572.8" cy="221.2" r="2.2"/>
<circle cx="575.1" cy="221.2" r="2.2"/>
<circle cx="577.4" cy="221.2" r="2.2"/>
<circle cx="579.8" cy="221.2" r="2.2"/>
<circle cx="582.1" cy="221.2" r="2.2"/>
<circle cx="584.4" cy="221.2" r="2.2"/>
<circle cx="586.7" cy="221.2" r="2.2"/>
<circle cx="610.8" cy="119.9" r="2.2"/>
<circle cx="606.8" cy="124.3" r="2.2"/>
<circle cx="611.5" cy="124.8" r="2.2"/>
<circle cx="619.7" cy="124.8" r="2.2"/>
<circle cx="612.8" cy="127.3" r="2.2"/>
<circle cx="615.2" cy="129.2" r="2.2"/>
<circle cx="601.4" cy="130.2" r="2.2"/>
<circle cx="620.7" cy="132.2" r="2.2"/>
<circle cx="604.0" cy="133.5" r="2.2"/>
<circle cx="607.0" cy="134.0" r="2.2"/>
<circle cx="611.0" cy="134.0" r="2.2"/>
<circle cx="613.0" cy="136.0" r="2.2"/>
<circle cx="626.6" cy="139.6" r="2.2"/>
<circle cx="622.0" cy="140.0" r="2.2"/>
<circle cx="619.0" cy="139.0" r="2.2"/>
<circle cx="602.0" cy="142.0" r="2.2"/>
<circle cx="603.5" cy="138.9" r="2.2"/>
<circle cx="608.4" cy="139.9" r="2.2"/>
<circle cx="616.7" cy="139.8" r="2.2"/>
<circle cx="602.5" cy="144.0" r="2.2"/>
<circle cx="608.2" cy="143.5" r="2.2"/>
<circle cx="611.7" cy="141.9" r="2.2"/>
<circle cx="614.1" cy="144.1" r="2.2"/>
<circle cx="616.0" cy="143.2" r="2.2"/>
<circle cx="622.1" cy="142.4" r="2.2"/>
<circle cx="602.5" cy="145.3" r="2.2"/>
<circle cx="613.4" cy="145.0" r="2.2"/>
<circle cx="622.4" cy="145.6" r="2.2"/>
<circle cx="604.3" cy="148.2" r="2.2"/>
<circle cx="608.3" cy="148.6" r="2.2"/>
<circle cx="610.5" cy="148.6" r="2.2"/>
<circle cx="617.6" cy="147.9" r="2.2"/>
<circle cx="621.8" cy="148.9" r="2.2"/>
<circle cx="624.9" cy="148.3" r="2.2"/>
<circle cx="605.0" cy="151.5" r="2.2"/>
<circle cx="611.2" cy="151.6" r="2.2"/>
<circle cx="612.3" cy="152.8" r="2.2"/>
<circle cx="615.7" cy="151.8" r="2.2"/>
<circle cx="622.7" cy="151.1" r="2.2"/>
<circle cx="626.1" cy="152.5" r="2.2"/>
<circle cx="601.8" cy="155.5" r="2.2"/>
<circle cx="606.8" cy="154.0" r="2.2"/>
<circle cx="614.0" cy="153.9" r="2.2"/>
<circle cx="620.3" cy="155.9" r="2.2"/>
<circle cx="621.3" cy="156.0" r="2.2"/>
<circle cx="601.5" cy="157.9" r="2.2"/>
<circle cx="603.6" cy="158.5" r="2.2"/>
<circle cx="614.0" cy="157.7" r="2.2"/>
<circle cx="620.4" cy="159.1" r="2.2"/>
<circle cx="622.5" cy="158.1" r="2.2"/>
<circle cx="624.3" cy="159.1" r="2.2"/>
<circle cx="602.0" cy="160.3" r="2.2"/>
<circle cx="604.7" cy="161.2" r="2.2"/>
<circle cx="608.0" cy="160.0" r="2.2"/>
<circle cx="615.6" cy="161.0" r="2.2"/>
<circle cx="619.0" cy="160.1" r="2.2"/>
<circle cx="621.6" cy="161.2" r="2.2"/>
<circle cx="604.2" cy="165.1" r="2.2"/>
<circle cx="609.9" cy="163.6" r="2.2"/>
<circle cx="614.7" cy="164.7" r="2.2"/>
<circle cx="625.5" cy="165.1" r="2.2"/>
<circle cx="601.6" cy="166.0" r="2.2"/>
<circle cx="604.5" cy="165.8" r="2.2"/>
<circle cx="608.6" cy="167.7" r="2.2"/>
<circle cx="614.2" cy="167.9" r="2.2"/>
<circle cx="619.8" cy="166.4" r="2.2"/>
<circle cx="622.0" cy="167.1" r="2.2"/>
<circle cx="601.9" cy="169.1" r="2.2"/>
<circle cx="605.6" cy="170.0" r="2.2"/>
<circle cx="607.4" cy="170.1" r="2.2"/>
<circle cx="609.6" cy="169.1" r="2.2"/>
<circle cx="613.3" cy="169.5" r="2.2"/>
<circle cx="615.5" cy="170.1" r="2.2"/>
<circle cx="622.7" cy="170.4" r="2.2"/>
<circle cx="626.0" cy="169.9" r="2.2"/>
<circle cx="628.8" cy="169.9" r="2.2"/>
<circle cx="604.1" cy="173.9" r="2.2"/>
<circle cx="607.6" cy="173.0" r="2.2"/>
<circle cx="611.7" cy="172.5" r="2.2"/>
<circle cx="615.5" cy="173.9" r="2.2"/>
<circle cx="618.4" cy="172.7" r="2.2"/>
<circle cx="623.1" cy="172.1" r="2.2"/>
<circle cx="626.6" cy="173.6" r="2.2"/>
<circle cx="628.1" cy="172.6" r="2.2"/>
<circle cx="605.1" cy="176.6" r="2.2"/>
<circle cx="611.2" cy="176.5" r="2.2"/>
<circle cx="617.4" cy="174.8" r="2.2"/>
<circle cx="622.5" cy="177.1" r="2.2"/>
<circle cx="625.3" cy="176.7" r="2.2"/>
<circle cx="602.0" cy="178.5" r="2.2"/>
<circle cx="604.6" cy="178.7" r="2.2"/>
<circle cx="608.2" cy="179.8" r="2.2"/>
<circle cx="610.4" cy="178.2" r="2.2"/>
<circle cx="612.6" cy="179.2" r="2.2"/>
<circle cx="615.5" cy="180.0" r="2.2"/>
<circle cx="620.3" cy="179.8" r="2.2"/>
<circle cx="625.3" cy="180.0" r="2.2"/>
<circle cx="627.4" cy="179.2" r="2.2"/>
<circle cx="602.7" cy="182.0" r="2.2"/>
<circle cx="604.9" cy="181.7" r="2.2"/>
<circle cx="607.7" cy="181.6" r="2.2"/>
<circle cx="613.6" cy="181.0" r="2.2"/>
<circle cx="616.3" cy="182.1" r="2.2"/>
<circle cx="620.4" cy="183.1" r="2.2"/>
<circle cx="622.4" cy="182.3" r="2.2"/>
<circle cx="628.6" cy="182.8" r="2.2"/>
<circle cx="631.1" cy="183.1" r="2.2"/>
<circle cx="603.6" cy="185.9" r="2.2"/>
<circle cx="608.3" cy="186.2" r="2.2"/>
<circle cx="612.7" cy="184.5" r="2.2"/>
<circle cx="616.5" cy="184.3" r="2.2"/>
<circle cx="619.8" cy="185.2" r="2.2"/>
<circle cx="623.7" cy="185.3" r="2.2"/>
<circle cx="625.3" cy="185.7" r="2.2"/>
<circle cx="629.0" cy="183.8" r="2.2"/>
<circle cx="632.3" cy="185.2" r="2.2"/>
<circle cx="603.9" cy="188.4" r="2.2"/>
<circle cx="608.7" cy="188.2" r="2.2"/>
<circle cx="609.6" cy="187.2" r="2.2"/>
<circle cx="615.5" cy="187.2" r="2.2"/>
<circle cx="620.3" cy="188.3" r="2.2"/>
<circle cx="624.3" cy="188.6" r="2.2"/>
<circle cx="629.0" cy="187.6" r="2.2"/>
<circle cx="630.9" cy="187.0" r="2.2"/>
<circle cx="604.1" cy="190.9" r="2.2"/>
<circle cx="606.4" cy="191.9" r="2.2"/>
<circle cx="611.6" cy="190.9" r="2.2"/>
<circle cx="612.9" cy="189.9" r="2.2"/>
<circle cx="623.5" cy="191.8" r="2.2"/>
<circle cx="625.7" cy="192.1" r="2.2"/>
<circle cx="629.6" cy="190.4" r="2.2"/>
<circle cx="632.0" cy="190.3" r="2.2"/>
<circle cx="602.4" cy="194.0" r="2.2"/>
<circle cx="606.7" cy="193.7" r="2.2"/>
<circle cx="611.6" cy="193.5" r="2.2"/>
<circle cx="612.6" cy="194.1" r="2.2"/>
<circle cx="616.3" cy="193.0" r="2.2"/>
<circle cx="620.3" cy="193.6" r="2.2"/>
<circle cx="621.8" cy="193.5" r="2.2"/>
<circle cx="624.4" cy="194.4" r="2.2"/>
<circle cx="627.7" cy="194.5" r="2.2"/>
<circle cx="630.9" cy="194.8" r="2.2"/>
<circle cx="607.1" cy="197.5" r="2.2"/>
<circle cx="611.6" cy="196.3" r="2.2"/>
<circle cx="615.8" cy="196.9" r="2.2"/>
<circle cx="620.0" cy="196.4" r="2.2"/>
<circle cx="625.2" cy="196.4" r="2.2"/>
<circle cx="627.8" cy="197.9" r="2.2"/>
<circle cx="631.5" cy="197.1" r="2.2"/>
<circle cx="602.2" cy="199.7" r="2.2"/>
<circle cx="604.7" cy="199.5" r="2.2"/>
<circle cx="606.5" cy="199.2" r="2.2"/>
<circle cx="613.9" cy="199.1" r="2.2"/>
<circle cx="616.2" cy="200.0" r="2.2"/>
<circle cx="618.5" cy="199.5" r="2.2"/>
<circle cx="621.6" cy="200.5" r="2.2"/>
<circle cx="625.3" cy="201.0" r="2.2"/>
<circle cx="604.0" cy="201.9" r="2.2"/>
<circle cx="607.9" cy="202.6" r="2.2"/>
<circle cx="610.9" cy="203.5" r="2.2"/>
<circle cx="614.3" cy="202.6" r="2.2"/>
<circle cx="615.7" cy="202.1" r="2.2"/>
<circle cx="624.4" cy="201.9" r="2.2"/>
<circle cx="627.8" cy="202.5" r="2.2"/>
<circle cx="630.4" cy="202.5" r="2.2"/>
<circle cx="605.0" cy="205.4" r="2.2"/>
<circle cx="607.9" cy="205.6" r="2.2"/>
<circle cx="611.3" cy="206.7" r="2.2"/>
<circle cx="612.4" cy="206.8" r="2.2"/>
<circle cx="615.4" cy="205.4" r="2.2"/>
<circle cx="620.2" cy="205.3" r="2.2"/>
<circle cx="629.0" cy="205.7" r="2.2"/>
<circle cx="616.4" cy="207.9" r="2.2"/>
<circle cx="619.3" cy="209.0" r="2.2"/>
<circle cx="626.1" cy="207.9" r="2.2"/>
<circle cx="629.2" cy="208.4" r="2.2"/>
<circle cx="601.5" cy="209.2" r="2.2"/>
<circle cx="604.1" cy="209.2" r="2.2"/>
<circle cx="606.7" cy="209.2" r="2.2"/>
<circle cx="609.3" cy="209.2" r="2.2"/>
<circle cx="611.9" cy="209.2" r="2.2"/>
<circle cx="614.5" cy="209.2" r="2.2"/>
<circle cx="617.0" cy="209.2" r="2.2"/>
<circle cx="619.6" cy="209.2" r="2.2"/>
<circle cx="622.2" cy="209.2" r="2.2"/>
<circle cx="624.8" cy="209.2" r="2.2"/>
<circle cx="627.4" cy="209.2" r="2.2"/>
<circle cx="630.0" cy="209.2" r="2.2"/>
<circle cx="601.1" cy="221.2" r="2.2"/>
<circle cx="603.4" cy="221.2" r="2.2"/>
<circle cx="605.8" cy="221.2" r="2.2"/>
<circle cx="608.1" cy="221.2" r="2.2"/>
<circle cx="610.5" cy="221.2" r="2.2"/>
<circle cx="612.8" cy="221.2" r="2.2"/>
<circle cx="615.2" cy="221.2" r="2.2"/>
<circle cx="617.5" cy="221.2" r="2.2"/>
<circle cx="619.9" cy="221.2" r="2.2"/>
<circle cx="622.2" cy="221.2" r="2.2"/>
<circle cx="624.6" cy="221.2" r="2.2"/>
<circle cx="626.9" cy="221.2" r="2.2"/>
<circle cx="629.3" cy="221.2" r="2.2"/>
<circle cx="631.6" cy="221.2" r="2.2"/>
<circle cx="647.9" cy="111.5" r="2.2"/>
<circle cx="647.8" cy="123.8" r="2.2"/>
<circle cx="649.0" cy="126.0" r="2.2"/>
<circle cx="650.6" cy="130.8" r="2.2"/>
<circle cx="644.0" cy="137.3" r="2.2"/>
<circle cx="648.0" cy="137.5" r="2.2"/>
<circle cx="649.5" cy="140.0" r="2.2"/>
<circle cx="654.0" cy="142.7" r="2.2"/>
<circle cx="635.5" cy="141.6" r="2.2"/>
<circle cx="638.0" cy="142.5" r="2.2"/>
<circle cx="642.0" cy="145.5" r="2.2"/>
<circle cx="650.5" cy="149.1" r="2.2"/>
<circle cx="643.0" cy="150.0" r="2.2"/>
<circle cx="646.0" cy="151.0" r="2.2"/>
<circle cx="635.5" cy="153.9" r="2.2"/>
<circle cx="639.6" cy="155.0" r="2.2"/>
<circle cx="640.4" cy="158.1" r="2.2"/>
<circle cx="646.0" cy="157.2" r="2.2"/>
<circle cx="648.4" cy="157.0" r="2.2"/>
<circle cx="653.0" cy="157.4" r="2.2"/>
<circle cx="638.7" cy="161.1" r="2.2"/>
<circle cx="641.0" cy="161.7" r="2.2"/>
<circle cx="642.6" cy="160.5" r="2.2"/>
<circle cx="645.8" cy="160.6" r="2.2"/>
<circle cx="650.5" cy="160.8" r="2.2"/>
<circle cx="653.5" cy="160.9" r="2.2"/>
<circle cx="654.9" cy="159.6" r="2.2"/>
<circle cx="636.7" cy="163.8" r="2.2"/>
<circle cx="647.2" cy="164.3" r="2.2"/>
<circle cx="651.7" cy="164.3" r="2.2"/>
<circle cx="655.2" cy="163.6" r="2.2"/>
<circle cx="637.7" cy="166.8" r="2.2"/>
<circle cx="652.5" cy="165.7" r="2.2"/>
<circle cx="655.7" cy="165.5" r="2.2"/>
<circle cx="637.4" cy="170.6" r="2.2"/>
<circle cx="639.4" cy="169.4" r="2.2"/>
<circle cx="644.0" cy="168.3" r="2.2"/>
<circle cx="655.0" cy="169.9" r="2.2"/>
<circle cx="637.9" cy="173.3" r="2.2"/>
<circle cx="643.0" cy="172.4" r="2.2"/>
<circle cx="646.1" cy="171.8" r="2.2"/>
<circle cx="649.1" cy="172.4" r="2.2"/>
<circle cx="644.2" cy="174.4" r="2.2"/>
<circle cx="646.8" cy="175.0" r="2.2"/>
<circle cx="650.6" cy="175.5" r="2.2"/>
<circle cx="652.0" cy="175.1" r="2.2"/>
<circle cx="636.5" cy="178.9" r="2.2"/>
<circle cx="640.7" cy="178.3" r="2.2"/>
<circle cx="643.7" cy="178.3" r="2.2"/>
<circle cx="645.7" cy="179.4" r="2.2"/>
<circle cx="648.6" cy="179.4" r="2.2"/>
<circle cx="651.5" cy="178.6" r="2.2"/>
<circle cx="655.5" cy="178.6" r="2.2"/>
<circle cx="634.7" cy="180.6" r="2.2"/>
<circle cx="637.7" cy="180.5" r="2.2"/>
<circle cx="639.5" cy="181.4" r="2.2"/>
<circle cx="647.0" cy="182.1" r="2.2"/>
<circle cx="650.7" cy="182.0" r="2.2"/>
<circle cx="653.3" cy="181.2" r="2.2"/>
<circle cx="638.2" cy="183.4" r="2.2"/>
<circle cx="640.2" cy="183.3" r="2.2"/>
<circle cx="642.8" cy="184.0" r="2.2"/>
<circle cx="650.4" cy="184.8" r="2.2"/>
<circle cx="635.1" cy="187.1" r="2.2"/>
<circle cx="641.3" cy="186.6" r="2.2"/>
<circle cx="644.1" cy="188.6" r="2.2"/>
<circle cx="649.7" cy="186.5" r="2.2"/>
<circle cx="653.2" cy="186.6" r="2.2"/>
<circle cx="638.3" cy="190.7" r="2.2"/>
<circle cx="639.4" cy="189.6" r="2.2"/>
<circle cx="646.6" cy="190.0" r="2.2"/>
<circle cx="649.2" cy="189.6" r="2.2"/>
<circle cx="656.0" cy="191.2" r="2.2"/>
<circle cx="637.1" cy="192.7" r="2.2"/>
<circle cx="641.4" cy="194.2" r="2.2"/>
<circle cx="642.7" cy="194.3" r="2.2"/>
<circle cx="646.2" cy="193.4" r="2.2"/>
<circle cx="650.3" cy="193.2" r="2.2"/>
<circle cx="654.5" cy="193.1" r="2.2"/>
<circle cx="635.4" cy="196.7" r="2.2"/>
<circle cx="636.7" cy="196.2" r="2.2"/>
<circle cx="640.7" cy="196.2" r="2.2"/>
<circle cx="642.3" cy="196.7" r="2.2"/>
<circle cx="645.3" cy="196.4" r="2.2"/>
<circle cx="651.6" cy="196.9" r="2.2"/>
<circle cx="655.0" cy="196.5" r="2.2"/>
<circle cx="634.7" cy="199.6" r="2.2"/>
<circle cx="643.6" cy="200.2" r="2.2"/>
<circle cx="652.8" cy="199.2" r="2.2"/>
<circle cx="656.2" cy="200.4" r="2.2"/>
<circle cx="637.0" cy="203.1" r="2.2"/>
<circle cx="643.8" cy="202.1" r="2.2"/>
<circle cx="646.3" cy="201.4" r="2.2"/>
<circle cx="649.1" cy="203.7" r="2.2"/>
<circle cx="652.2" cy="201.9" r="2.2"/>
<circle cx="655.1" cy="201.6" r="2.2"/>
<circle cx="635.4" cy="205.4" r="2.2"/>
<circle cx="637.7" cy="205.0" r="2.2"/>
<circle cx="639.5" cy="205.0" r="2.2"/>
<circle cx="644.0" cy="205.6" r="2.2"/>
<circle cx="650.5" cy="205.7" r="2.2"/>
<circle cx="651.7" cy="205.7" r="2.2"/>
<circle cx="637.5" cy="207.3" r="2.2"/>
<circle cx="640.0" cy="207.3" r="2.2"/>
<circle cx="642.5" cy="207.3" r="2.2"/>
<circle cx="645.0" cy="207.3" r="2.2"/>
<circle cx="647.5" cy="207.3" r="2.2"/>
<circle cx="650.0" cy="207.3" r="2.2"/>
<circle cx="652.5" cy="207.3" r="2.2"/>
<circle cx="655.0" cy="207.3" r="2.2"/>
<circle cx="638.7" cy="221.2" r="2.2"/>
<circle cx="641.0" cy="221.2" r="2.2"/>
<circle cx="643.2" cy="221.2" r="2.2"/>
<circle cx="645.5" cy="221.2" r="2.2"/>
<circle cx="647.8" cy="221.2" r="2.2"/>
<circle cx="650.1" cy="221.2" r="2.2"/>
<circle cx="652.4" cy="221.2" r="2.2"/>
<circle cx="654.6" cy="221.2" r="2.2"/>
<circle cx="656.9" cy="221.2" r="2.2"/>
<circle cx="661.3" cy="159.4" r="2.2"/>
<circle cx="661.3" cy="162.3" r="2.2"/>
<circle cx="661.3" cy="168.2" r="2.2"/>
<circle cx="661.3" cy="174.0" r="2.2"/>
<circle cx="661.3" cy="179.2" r="2.2"/>
<circle cx="661.3" cy="190.3" r="2.2"/>
<circle cx="661.3" cy="195.0" r="2.2"/>
<circle cx="661.3" cy="200.8" r="2.2"/>
<circle cx="660.1" cy="210.8" r="2.2"/>
<circle cx="666.6" cy="208.5" r="2.2"/>
<circle cx="661.5" cy="221.2" r="2.2"/>
<circle cx="666.5" cy="221.2" r="2.2"/>
</g>
<text transform="translate(51.90,241.40) scale(1,1.040)" font-size="14.7" text-anchor="middle">0</text>
<text transform="translate(51.90,526.30) scale(1,1.040)" font-size="14.7" text-anchor="middle">0</text>
<text transform="translate(139.50,241.40) scale(1,1.040)" font-size="14.7" text-anchor="middle">100</text>
<text transform="translate(139.50,526.30) scale(1,1.040)" font-size="14.7" text-anchor="middle">100</text>
<text transform="translate(228.50,241.40) scale(1,1.040)" font-size="14.7" text-anchor="middle">200</text>
<text transform="translate(228.50,526.30) scale(1,1.040)" font-size="14.7" text-anchor="middle">200</text>
<text transform="translate(317.40,241.40) scale(1,1.040)" font-size="14.7" text-anchor="middle">300</text>
<text transform="translate(317.40,526.30) scale(1,1.040)" font-size="14.7" text-anchor="middle">300</text>
<text transform="translate(406.20,241.40) scale(1,1.040)" font-size="14.7" text-anchor="middle">400</text>
<text transform="translate(406.20,526.30) scale(1,1.040)" font-size="14.7" text-anchor="middle">400</text>
<text transform="translate(494.90,241.40) scale(1,1.040)" font-size="14.7" text-anchor="middle">500</text>
<text transform="translate(494.90,526.30) scale(1,1.040)" font-size="14.7" text-anchor="middle">500</text>
<text transform="translate(583.50,241.40) scale(1,1.040)" font-size="14.7" text-anchor="middle">600</text>
<text transform="translate(583.50,526.30) scale(1,1.040)" font-size="14.7" text-anchor="middle">600</text>
<text transform="translate(671.40,241.40) scale(1,1.040)" font-size="14.7" text-anchor="middle">700</text>
<text transform="translate(671.40,526.30) scale(1,1.040)" font-size="14.7" text-anchor="middle">700</text>
<text transform="translate(45.90,226.90) scale(1,1.040)" font-size="14.7" text-anchor="end">0</text>
<text transform="translate(45.90,176.10) scale(1,1.040)" font-size="14.7" text-anchor="end">1</text>
<text transform="translate(45.90,124.10) scale(1,1.040)" font-size="14.7" text-anchor="end">2</text>
<text transform="translate(45.90,73.10) scale(1,1.040)" font-size="14.7" text-anchor="end">3</text>
<text transform="translate(45.90,22.10) scale(1,1.040)" font-size="14.7" text-anchor="end">4</text>
<text transform="translate(45.90,511.80) scale(1,1.040)" font-size="14.7" text-anchor="end">300</text>
<text transform="translate(45.90,443.40) scale(1,1.040)" font-size="14.7" text-anchor="end">350</text>
<text transform="translate(45.90,375.10) scale(1,1.040)" font-size="14.7" text-anchor="end">400</text>
<text transform="translate(45.90,307.00) scale(1,1.040)" font-size="14.7" text-anchor="end">450</text>
<text transform="translate(191.50,11.50) scale(1,1.040)" font-size="15.35" font-weight="bold">(a) Temperature difference between APDs</text>
<text transform="translate(326.60,288.20) scale(1,1.040)" font-size="15.2" font-weight="bold">(b) Altitude</text>
<text transform="translate(308.20,553.10) scale(1,1.040)" font-size="15.2" font-weight="bold">Days</text>
<text transform="translate(22.80,174.00) rotate(-90) scale(1,1.040)" font-size="15.2" font-weight="bold">Temperature (°C)</text>
<text transform="translate(12.10,455.00) rotate(-90) scale(1,1.040)" font-size="15.45" font-weight="bold">Altitude (km)</text>
<rect x="541.2" y="28.5" width="117.3" height="23.3" fill="#fff" stroke="#262626" stroke-width="0.8"/>
<circle cx="570.2" cy="39.9" r="2.2" fill="#ff1510"/>
<text transform="translate(599.30,41.90) scale(1,1.040)" font-size="13">ΔT</text>
<text transform="translate(616.70,48.10) scale(1,1.040)" font-size="10.9">APD1,2</text>
<rect x="549.5" y="312.5" width="108.9" height="20.1" fill="#fff" stroke="#262626" stroke-width="0.8"/>
<line x1="554.2" y1="322.9" x2="603.5" y2="322.9" stroke="#0000ff" stroke-width="1.8"/>
<circle cx="579.8" cy="322.9" r="2.2" fill="#0000ff"/>
<text transform="translate(608.40,327.70) scale(1,1.040)" font-size="13.2">Altitude</text>
<polyline fill="none" stroke="#0000ff" stroke-width="1.45" stroke-linejoin="round" points="59.2,346.7 65.8,346.8 66.3,347.6 82.7,347.8 102.1,348.5 132.0,350.3 144.7,351.3 173.7,353.8 182.6,354.3 185.8,354.8 187.4,354.9 194.6,355.4 196.2,355.5 205.8,356.1 209.9,356.3 215.2,356.5 223.8,357.0 230.7,357.7 236.0,357.9 293.0,362.4 314.7,364.8 358.1,367.8 382.1,370.6 386.6,370.9 393.8,371.1 401.8,371.3 407.1,371.9 418.4,372.7 431.2,373.8 436.4,374.3 450.4,375.4 454.5,375.6 482.1,379.9 529.9,389.9 572.1,399.6 579.7,401.0 580.9,401.2 587.3,402.5 591.4,403.3 595.0,404.0 603.8,406.8 612.6,409.5 621.3,412.3 630.1,415.6 638.8,418.4 647.6,421.9 656.4,425.9 665.1,428.9 671.4,431.6"/>
<g fill="#0000ff">
<circle cx="102.1" cy="348.5" r="1.95"/>
<circle cx="132.0" cy="350.3" r="1.95"/>
<circle cx="144.7" cy="351.3" r="1.95"/>
<circle cx="185.8" cy="354.8" r="1.95"/>
<circle cx="187.4" cy="354.9" r="1.95"/>
<circle cx="194.6" cy="355.4" r="1.95"/>
<circle cx="196.2" cy="355.5" r="1.95"/>
<circle cx="205.8" cy="356.1" r="1.95"/>
<circle cx="209.9" cy="356.3" r="1.95"/>
<circle cx="215.2" cy="356.5" r="1.95"/>
<circle cx="223.8" cy="357.0" r="1.95"/>
<circle cx="230.7" cy="357.7" r="1.95"/>
<circle cx="236.0" cy="357.9" r="1.95"/>
<circle cx="293.0" cy="362.4" r="1.95"/>
<circle cx="314.7" cy="364.8" r="1.95"/>
<circle cx="358.1" cy="367.8" r="1.95"/>
<circle cx="382.1" cy="370.6" r="1.95"/>
<circle cx="386.6" cy="370.9" r="1.95"/>
<circle cx="407.1" cy="371.9" r="1.95"/>
<circle cx="418.4" cy="372.7" r="1.95"/>
<circle cx="431.2" cy="373.8" r="1.95"/>
<circle cx="436.4" cy="374.3" r="1.95"/>
<circle cx="450.4" cy="375.4" r="1.95"/>
<circle cx="454.5" cy="375.6" r="1.95"/>
<circle cx="482.1" cy="379.9" r="1.95"/>
<circle cx="529.9" cy="389.9" r="1.95"/>
<circle cx="572.1" cy="399.6" r="1.95"/>
<circle cx="579.7" cy="401.0" r="1.95"/>
<circle cx="580.9" cy="401.2" r="1.95"/>
<circle cx="587.3" cy="402.5" r="1.95"/>
<circle cx="59.2" cy="346.7" r="1.95"/>
<circle cx="60.2" cy="346.7" r="1.95"/>
<circle cx="61.2" cy="346.7" r="1.95"/>
<circle cx="62.2" cy="346.7" r="1.95"/>
<circle cx="63.2" cy="346.8" r="1.95"/>
<circle cx="64.2" cy="346.8" r="1.95"/>
<circle cx="65.2" cy="346.8" r="1.95"/>
<circle cx="66.3" cy="347.6" r="1.95"/>
<circle cx="67.5" cy="347.6" r="1.95"/>
<circle cx="68.7" cy="347.6" r="1.95"/>
<circle cx="69.9" cy="347.6" r="1.95"/>
<circle cx="71.1" cy="347.7" r="1.95"/>
<circle cx="72.3" cy="347.7" r="1.95"/>
<circle cx="73.5" cy="347.7" r="1.95"/>
<circle cx="74.7" cy="347.7" r="1.95"/>
<circle cx="75.9" cy="347.7" r="1.95"/>
<circle cx="77.1" cy="347.7" r="1.95"/>
<circle cx="78.3" cy="347.7" r="1.95"/>
<circle cx="79.5" cy="347.8" r="1.95"/>
<circle cx="80.7" cy="347.8" r="1.95"/>
<circle cx="81.9" cy="347.8" r="1.95"/>
<circle cx="175.5" cy="353.9" r="1.95"/>
<circle cx="176.5" cy="354.0" r="1.95"/>
<circle cx="177.5" cy="354.0" r="1.95"/>
<circle cx="178.5" cy="354.1" r="1.95"/>
<circle cx="179.5" cy="354.1" r="1.95"/>
<circle cx="180.5" cy="354.2" r="1.95"/>
<circle cx="395.6" cy="371.1" r="1.95"/>
<circle cx="396.6" cy="371.2" r="1.95"/>
<circle cx="397.6" cy="371.2" r="1.95"/>
<circle cx="398.6" cy="371.2" r="1.95"/>
<circle cx="399.6" cy="371.2" r="1.95"/>
<circle cx="400.6" cy="371.3" r="1.95"/>
<circle cx="591.4" cy="403.3" r="1.75"/>
<circle cx="592.4" cy="403.5" r="1.75"/>
<circle cx="593.4" cy="403.7" r="1.75"/>
<circle cx="594.4" cy="403.9" r="1.75"/>
<circle cx="595.4" cy="404.1" r="1.75"/>
<circle cx="596.4" cy="404.4" r="1.75"/>
<circle cx="597.4" cy="404.8" r="1.75"/>
<circle cx="598.4" cy="405.1" r="1.75"/>
<circle cx="599.4" cy="405.4" r="1.75"/>
<circle cx="600.4" cy="405.7" r="1.75"/>
<circle cx="601.4" cy="406.0" r="1.75"/>
<circle cx="602.4" cy="406.4" r="1.75"/>
<circle cx="603.4" cy="406.7" r="1.75"/>
<circle cx="604.4" cy="407.0" r="1.75"/>
<circle cx="605.4" cy="407.3" r="1.75"/>
<circle cx="606.4" cy="407.6" r="1.75"/>
<circle cx="607.4" cy="407.9" r="1.75"/>
<circle cx="608.4" cy="408.2" r="1.75"/>
<circle cx="609.4" cy="408.5" r="1.75"/>
<circle cx="610.4" cy="408.8" r="1.75"/>
<circle cx="611.4" cy="409.1" r="1.75"/>
<circle cx="612.4" cy="409.4" r="1.75"/>
<circle cx="613.4" cy="409.8" r="1.75"/>
<circle cx="614.4" cy="410.1" r="1.75"/>
<circle cx="615.4" cy="410.4" r="1.75"/>
<circle cx="616.4" cy="410.7" r="1.75"/>
<circle cx="617.4" cy="411.0" r="1.75"/>
<circle cx="618.4" cy="411.4" r="1.75"/>
<circle cx="619.4" cy="411.7" r="1.75"/>
<circle cx="620.4" cy="412.0" r="1.75"/>
<circle cx="621.4" cy="412.3" r="1.75"/>
<circle cx="622.4" cy="412.7" r="1.75"/>
<circle cx="623.4" cy="413.1" r="1.75"/>
<circle cx="624.4" cy="413.5" r="1.75"/>
<circle cx="625.4" cy="413.8" r="1.75"/>
<circle cx="626.4" cy="414.2" r="1.75"/>
<circle cx="627.4" cy="414.6" r="1.75"/>
<circle cx="628.4" cy="415.0" r="1.75"/>
<circle cx="629.4" cy="415.3" r="1.75"/>
<circle cx="630.4" cy="415.7" r="1.75"/>
<circle cx="631.4" cy="416.0" r="1.75"/>
<circle cx="632.4" cy="416.3" r="1.75"/>
<circle cx="633.4" cy="416.7" r="1.75"/>
<circle cx="634.4" cy="417.0" r="1.75"/>
<circle cx="635.4" cy="417.3" r="1.75"/>
<circle cx="636.4" cy="417.6" r="1.75"/>
<circle cx="637.4" cy="417.9" r="1.75"/>
<circle cx="638.4" cy="418.3" r="1.75"/>
<circle cx="639.4" cy="418.6" r="1.75"/>
<circle cx="640.4" cy="419.0" r="1.75"/>
<circle cx="641.4" cy="419.4" r="1.75"/>
<circle cx="642.4" cy="419.8" r="1.75"/>
<circle cx="643.4" cy="420.2" r="1.75"/>
<circle cx="644.4" cy="420.6" r="1.75"/>
<circle cx="645.4" cy="421.0" r="1.75"/>
<circle cx="646.4" cy="421.4" r="1.75"/>
<circle cx="647.4" cy="421.8" r="1.75"/>
<circle cx="648.4" cy="422.3" r="1.75"/>
<circle cx="649.4" cy="422.7" r="1.75"/>
<circle cx="650.4" cy="423.2" r="1.75"/>
<circle cx="651.4" cy="423.6" r="1.75"/>
<circle cx="652.4" cy="424.1" r="1.75"/>
<circle cx="653.4" cy="424.5" r="1.75"/>
<circle cx="654.4" cy="425.0" r="1.75"/>
<circle cx="655.4" cy="425.4" r="1.75"/>
<circle cx="656.4" cy="425.9" r="1.75"/>
<circle cx="657.4" cy="426.2" r="1.75"/>
<circle cx="658.4" cy="426.6" r="1.75"/>
<circle cx="659.4" cy="426.9" r="1.75"/>
<circle cx="660.4" cy="427.3" r="1.75"/>
<circle cx="661.4" cy="427.6" r="1.75"/>
<circle cx="662.4" cy="428.0" r="1.75"/>
<circle cx="663.4" cy="428.3" r="1.75"/>
<circle cx="664.4" cy="428.7" r="1.75"/>
<circle cx="665.4" cy="429.0" r="1.75"/>
<circle cx="666.4" cy="429.5" r="1.75"/>
<circle cx="667.4" cy="429.9" r="1.75"/>
<circle cx="668.4" cy="430.3" r="1.75"/>
<circle cx="669.4" cy="430.7" r="1.75"/>
<circle cx="670.4" cy="431.2" r="1.75"/>
<circle cx="671.4" cy="431.6" r="1.75"/>
</g>
</svg></body></html>
